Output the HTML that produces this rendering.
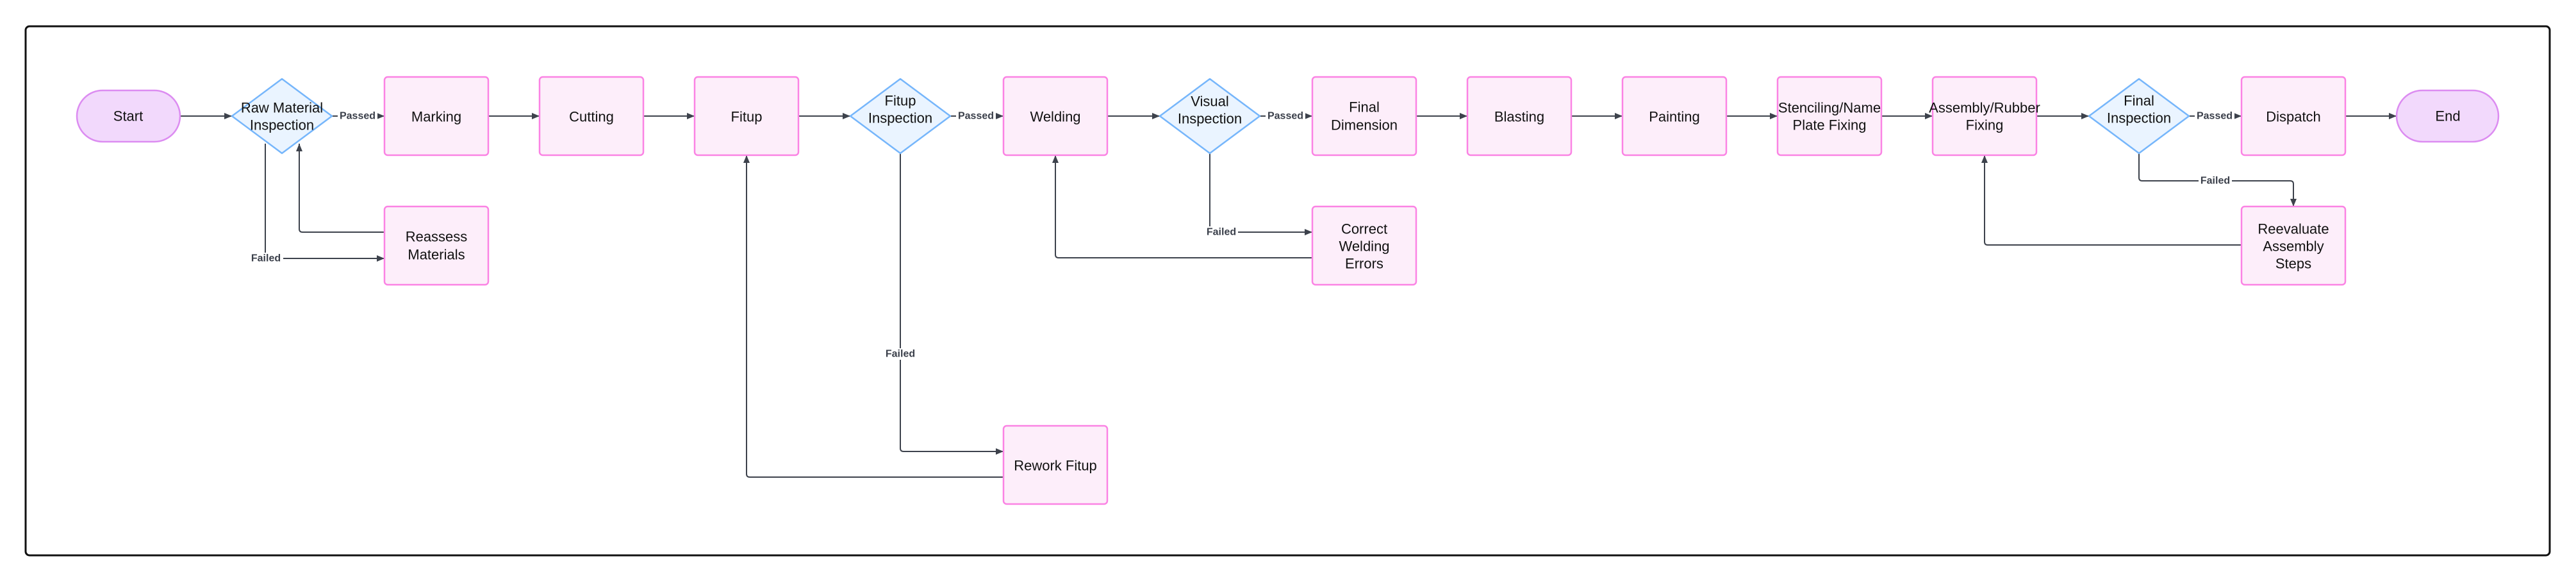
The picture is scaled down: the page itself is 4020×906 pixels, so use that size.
<!DOCTYPE html>
<html><head><meta charset="utf-8"><style>
html,body{margin:0;padding:0;background:#fff;}
svg{display:block}
.n{fill:#fdeefa;stroke:#fb83e4;stroke-width:2.5}
.d{fill:#eaf4ff;stroke:#76b6fb;stroke-width:2.5}
.p{fill:#f2d9fc;stroke:#dc8cf1;stroke-width:2.5}
.e{fill:none;stroke:#3d424c;stroke-width:2}
.t{font-family:"Liberation Sans",Arial,sans-serif;font-size:22px;fill:#111;text-anchor:middle;dominant-baseline:central}
.l{font-family:"Liberation Sans",Arial,sans-serif;font-size:16px;font-weight:bold;fill:#3a3f4a;text-anchor:middle;dominant-baseline:central}
</style></head><body>
<svg width="4020" height="906" viewBox="0 0 4020 906" xmlns="http://www.w3.org/2000/svg">
<defs><marker id="a" viewBox="0 0 12 10" refX="12" refY="5" markerWidth="12" markerHeight="10" markerUnits="userSpaceOnUse" orient="auto"><path d="M0,0 L12,5 L0,10 z" fill="#3d424c"/></marker></defs>
<rect x="40" y="41" width="3939" height="825" rx="6" fill="#fff" stroke="#111" stroke-width="3"/>

<!-- edges -->
<g class="e" marker-end="url(#a)">
<path d="M281,181 H362"/>
<path d="M518,181 H600"/>
<path d="M762,181 H842"/>
<path d="M1004,181 H1084"/>
<path d="M1246,181 H1327"/>
<path d="M1483,181 H1566"/>
<path d="M1728,181 H1810"/>
<path d="M1966,181 H2048"/>
<path d="M2210,181 H2290"/>
<path d="M2452,181 H2532"/>
<path d="M2694,181 H2774"/>
<path d="M2936,181 H3016"/>
<path d="M3178,181 H3260"/>
<path d="M3416,181 H3498"/>
<path d="M3660,181 H3740"/>
<path d="M414,224 V403 H600"/>
<path d="M600,362 H472 Q467,362 467,357 V224"/>
<path d="M1405,239 V699 Q1405,704 1410,704 H1566"/>
<path d="M1566,744 H1170 Q1165,744 1165,739 V242"/>
<path d="M1888,239 V362 H2048"/>
<path d="M2048,402 H1652 Q1647,402 1647,397 V242"/>
<path d="M3338,239 V277 Q3338,282 3343,282 H3574 Q3579,282 3579,287 V322"/>
<path d="M3498,382 H3102 Q3097,382 3097,377 V242"/>
</g>

<!-- nodes -->
<rect class="p" x="120" y="141" width="161" height="80" rx="40"/>
<rect class="p" x="3740" y="141" width="159" height="80" rx="40"/>
<g class="n">
<rect x="600" y="120" width="162" height="122" rx="5"/>
<rect x="842" y="120" width="162" height="122" rx="5"/>
<rect x="1084" y="120" width="162" height="122" rx="5"/>
<rect x="1566" y="120" width="162" height="122" rx="5"/>
<rect x="2048" y="120" width="162" height="122" rx="5"/>
<rect x="2290" y="120" width="162" height="122" rx="5"/>
<rect x="2532" y="120" width="162" height="122" rx="5"/>
<rect x="2774" y="120" width="162" height="122" rx="5"/>
<rect x="3016" y="120" width="162" height="122" rx="5"/>
<rect x="3498" y="120" width="162" height="122" rx="5"/>
<rect x="600" y="322" width="162" height="122" rx="5"/>
<rect x="2048" y="322" width="162" height="122" rx="5"/>
<rect x="3498" y="322" width="162" height="122" rx="5"/>
<rect x="1566" y="664" width="162" height="122" rx="5"/>
</g>
<g class="d" stroke-linejoin="round">
<path d="M440,123 L518,181 L440,239 L362,181 Z"/>
<path d="M1405,123 L1483,181 L1405,239 L1327,181 Z"/>
<path d="M1888,123 L1966,181 L1888,239 L1810,181 Z"/>
<path d="M3338,123 L3416,181 L3338,239 L3260,181 Z"/>
</g>

<!-- node text -->
<g class="t">
<text x="200" y="181">Start</text>
<text x="3820" y="181">End</text>
<text x="440" y="168">Raw Material</text><text x="440" y="195">Inspection</text>
<text x="681" y="182">Marking</text>
<text x="923" y="182">Cutting</text>
<text x="1165" y="182">Fitup</text>
<text x="1405" y="157">Fitup</text><text x="1405" y="184">Inspection</text>
<text x="1647" y="182">Welding</text>
<text x="1888" y="158">Visual</text><text x="1888" y="185">Inspection</text>
<text x="2129" y="167">Final</text><text x="2129" y="195">Dimension</text>
<text x="2371" y="182">Blasting</text>
<text x="2613" y="182">Painting</text>
<text x="2855" y="168">Stenciling/Name</text><text x="2855" y="195">Plate Fixing</text>
<text x="3097" y="168">Assembly/Rubber</text><text x="3097" y="195">Fixing</text>
<text x="3338" y="157">Final</text><text x="3338" y="184">Inspection</text>
<text x="3579" y="182">Dispatch</text>
<text x="681" y="369">Reassess</text><text x="681" y="397">Materials</text>
<text x="2129" y="357">Correct</text><text x="2129" y="384">Welding</text><text x="2129" y="411">Errors</text>
<text x="3579" y="357">Reevaluate</text><text x="3579" y="384">Assembly</text><text x="3579" y="411">Steps</text>
<text x="1647" y="726">Rework Fitup</text>
</g>

<!-- edge labels -->
<g>
<rect x="527" y="172" width="62" height="18" fill="#fff"/>
<rect x="1492" y="172" width="62" height="18" fill="#fff"/>
<rect x="1975" y="172" width="62" height="18" fill="#fff"/>
<rect x="3425" y="172" width="62" height="18" fill="#fff"/>
<rect x="390" y="394" width="52" height="18" fill="#fff"/>
<rect x="1380" y="543" width="52" height="18" fill="#fff"/>
<rect x="1880" y="353" width="52" height="18" fill="#fff"/>
<rect x="3431" y="273" width="52" height="18" fill="#fff"/>
</g>
<g class="l">
<text x="558" y="181">Passed</text>
<text x="1523" y="181">Passed</text>
<text x="2006" y="181">Passed</text>
<text x="3456" y="181">Passed</text>
<text x="415" y="403">Failed</text>
<text x="1405" y="552">Failed</text>
<text x="1906" y="362">Failed</text>
<text x="3457" y="282">Failed</text>
</g>
</svg>
</body></html>
